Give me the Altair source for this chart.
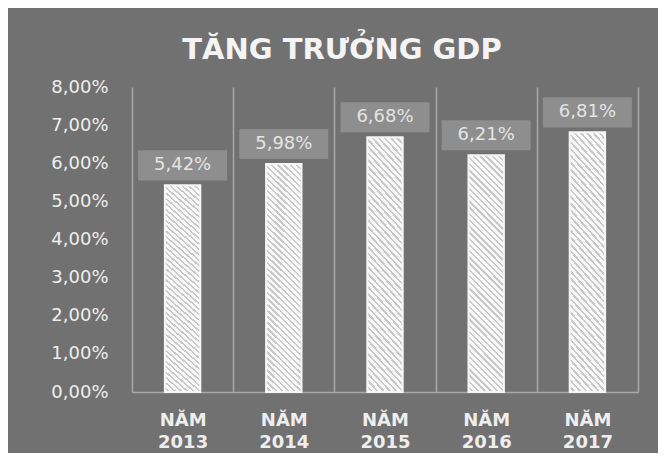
import altair as alt
import pandas as pd

years = ["NĂM 2013", "NĂM 2014", "NĂM 2015", "NĂM 2016", "NĂM 2017"]
growth = [5.42, 5.98, 6.68, 6.21, 6.81]
y_ticks = [0, 1, 2, 3, 4, 5, 6, 7, 8]
title_text = "TĂNG TRƯỞNG GDP"

df = pd.DataFrame({"year": years, "growth": growth})

BG = "#717171"
BOX = "#8e8e8e"
GRID = "#a9a9a9"
TXT = "#eeeeee"
FONT = "DejaVu Sans"

# diagonal hatch fill for the bars
W_, G_ = "#f8f8f8", "#c9c9c9"
N = 44
stops = []
for i in range(N):
    a, b, c = i / N, (i + 0.62) / N, (i + 1) / N
    stops += [
        alt.GradientStop(offset=a, color=W_),
        alt.GradientStop(offset=b, color=W_),
        alt.GradientStop(offset=b, color=G_),
        alt.GradientStop(offset=c, color=G_),
    ]
hatch = alt.LinearGradient(gradient="linear", stops=stops, x1=0, y1=1, x2=0.17, y2=-0.13)

fmt = "replace(format({v}, '.2f'), '.', ',') + '%'"

x_enc = alt.X(
    "year:N",
    sort=years,
    scale=alt.Scale(paddingInner=0, paddingOuter=0),
    axis=alt.Axis(
        title=None,
        labelAngle=0,
        labelExpr="split(datum.label, ' ')",
        tickBand="extent",
        grid=True,
        gridColor=GRID,
        gridWidth=1.5,
        ticks=False,
        domainColor=GRID,
        domainWidth=1.5,
        labelFont=FONT,
        labelFontSize=18,
        labelFontWeight="bold",
        labelColor=TXT,
        labelPadding=19,
        labelLineHeight=22,
    ),
)

y_scale = alt.Scale(domain=[0, 8])
y_axis = alt.Axis(
    title=None,
    values=y_ticks,
    labelExpr=fmt.format(v="datum.value"),
    labelOverlap=False,
    grid=False,
    ticks=False,
    domain=False,
    labelFont=FONT,
    labelFontSize=18,
    labelColor=TXT,
    labelPadding=24,
)

base = alt.Chart(df).encode(x=x_enc)

bars = base.mark_bar(width=alt.RelativeBandSize(0.35), color=hatch, stroke="#f6f6f6", strokeWidth=2).encode(
    y=alt.Y("growth:Q", scale=y_scale, axis=y_axis)
)

boxes = base.transform_calculate(
    lo="datum.growth + 0.13", hi="datum.growth + 0.92"
).mark_rect(width=alt.RelativeBandSize(0.88), color=BOX).encode(
    y=alt.Y("lo:Q", scale=y_scale, axis=y_axis), y2="hi:Q"
)

labels = base.transform_calculate(
    mid="datum.growth + 0.525", lab=fmt.format(v="datum.growth")
).mark_text(font=FONT, fontSize=18, color="#e4e4e4", baseline="middle").encode(
    y=alt.Y("mid:Q", scale=y_scale, axis=y_axis), text="lab:N"
)

chart = (
    alt.layer(bars, boxes, labels)
    .properties(
        width=506,
        height=305,
        padding={"left": 124, "top": 79, "right": 20, "bottom": 61},
        autosize=alt.AutoSizeParams(type="none"),
        background=BG,
        title=alt.TitleParams(
            title_text,
            font=FONT,
            fontSize=29,
            fontWeight="bold",
            color="#f4f4f4",
            anchor="middle",
            offset=13,
            dx=-43,
        ),
    )
    .configure_view(stroke=None)
    .configure_axisY(labelOverlap=False)
)

chart.save("out.html", embed_options={"renderer": "svg", "actions": False})
